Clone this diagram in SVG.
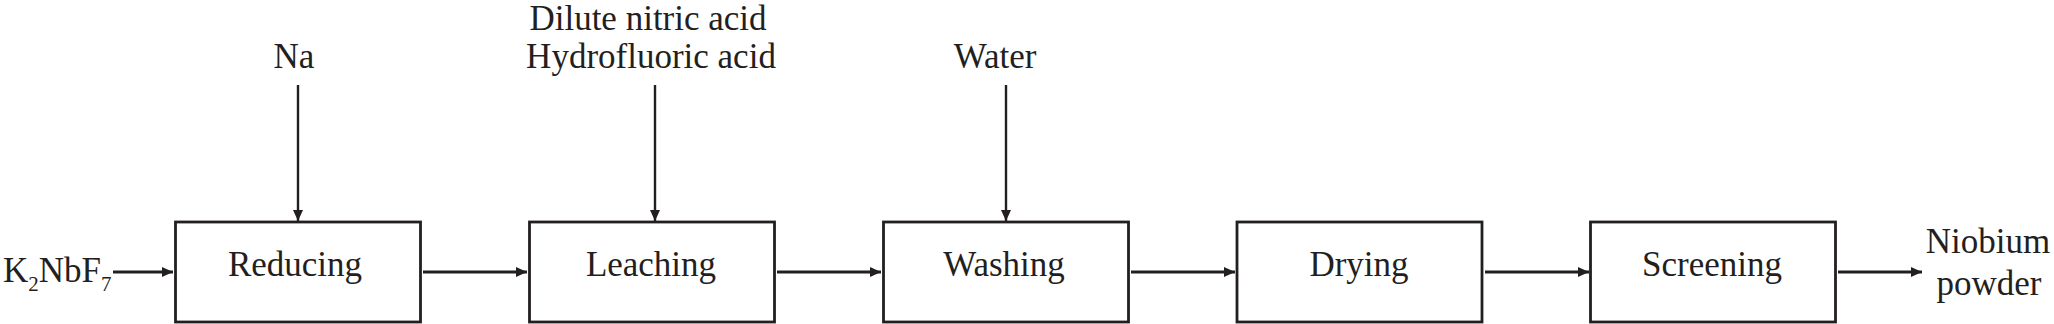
<svg xmlns="http://www.w3.org/2000/svg" width="2054" height="324" viewBox="0 0 2054 324">
<style>
.box{fill:#ffffff;stroke:#231f20;stroke-width:2.8}
.lbl{font-family:"Liberation Serif","Times New Roman",serif;font-size:35px;fill:#231f20;text-anchor:middle}
.h{stroke:#231f20;stroke-width:3;fill:none}
.v{stroke:#231f20;stroke-width:2.4;fill:none}
</style>
<defs>
<marker id="ah" viewBox="0 0 11 10" refX="11" refY="5" markerWidth="11" markerHeight="10" markerUnits="userSpaceOnUse" orient="auto">
<path d="M0,0 L11,5 L0,10 Z" fill="#231f20"/>
</marker>
</defs>
<rect width="2054" height="324" fill="#ffffff"/>
<g id="connectors">
<line class="h" x1="113" y1="272" x2="173" y2="272" marker-end="url(#ah)"/>
<line class="h" x1="423" y1="272" x2="527" y2="272" marker-end="url(#ah)"/>
<line class="h" x1="777" y1="272" x2="881" y2="272" marker-end="url(#ah)"/>
<line class="h" x1="1131" y1="272" x2="1235" y2="272" marker-end="url(#ah)"/>
<line class="h" x1="1485" y1="272" x2="1589" y2="272" marker-end="url(#ah)"/>
<line class="h" x1="1838" y1="272" x2="1922" y2="272" marker-end="url(#ah)"/>
<line class="v" x1="298" y1="85" x2="298" y2="221" marker-end="url(#ah)"/>
<line class="v" x1="655" y1="85" x2="655" y2="221" marker-end="url(#ah)"/>
<line class="v" x1="1006" y1="85" x2="1006" y2="221" marker-end="url(#ah)"/>
</g>
<g id="input-k2nbf7">
<text class="lbl" x="3" y="282" style="text-anchor:start">K<tspan dy="9" font-size="21">2</tspan><tspan dy="-9">NbF</tspan><tspan dy="9" font-size="21">7</tspan></text>
</g>
<g id="input-na">
<text class="lbl" x="294" y="68">Na</text>
</g>
<g id="input-acids">
<text class="lbl" x="648" y="30">Dilute nitric acid</text>
<text class="lbl" x="651" y="68">Hydrofluoric acid</text>
</g>
<g id="input-water">
<text class="lbl" x="995" y="68">Water</text>
</g>
<g id="reducing">
<rect class="box" x="175.5" y="222" width="245" height="100"/>
<text class="lbl" x="295" y="276">Reducing</text>
</g>
<g id="leaching">
<rect class="box" x="529.5" y="222" width="245" height="100"/>
<text class="lbl" x="651" y="276">Leaching</text>
</g>
<g id="washing">
<rect class="box" x="883.5" y="222" width="245" height="100"/>
<text class="lbl" x="1004" y="276">Washing</text>
</g>
<g id="drying">
<rect class="box" x="1237" y="222" width="245" height="100"/>
<text class="lbl" x="1359" y="276">Drying</text>
</g>
<g id="screening">
<rect class="box" x="1590.5" y="222" width="245" height="100"/>
<text class="lbl" x="1712" y="276">Screening</text>
</g>
<g id="output-niobium">
<text class="lbl" x="1988" y="253">Niobium</text>
<text class="lbl" x="1989" y="295">powder</text>
</g>
</svg>
